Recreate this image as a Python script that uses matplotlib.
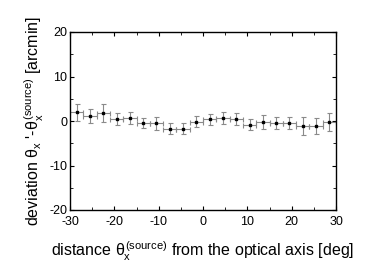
import numpy as np
import matplotlib
matplotlib.use("Agg")
import matplotlib.pyplot as plt
from matplotlib.ticker import MultipleLocator

plt.rcParams["font.family"] = ["Liberation Sans", "DejaVu Sans"]
plt.rcParams["mathtext.fontset"] = "custom"
plt.rcParams["mathtext.rm"] = "Liberation Sans"
plt.rcParams["mathtext.it"] = "Liberation Sans"
plt.rcParams["mathtext.sf"] = "Liberation Sans"
plt.rcParams["axes.unicode_minus"] = False

# 数据：每 3 度一个分箱
x = np.arange(-28.5, 30, 3.0)
dev = [2.0, 1.05, 1.8, 0.5, 0.67, -0.45, -0.5, -1.7, -1.7, -0.15,
       0.4, 0.67, 0.5, -0.8, -0.2, -0.5, -0.5, -1.2, -1.1, -0.2]
dev_err = [1.9, 1.6, 2.1, 1.3, 1.4, 1.1, 1.5, 1.2, 1.2, 1.3,
           1.2, 1.3, 1.3, 1.3, 1.5, 1.4, 1.4, 2.0, 1.8, 2.1]
x_err = 1.5

fig = plt.figure(figsize=(3.91, 2.73), dpi=100)
ax = fig.add_axes([70 / 391, 1 - 210 / 273, 266 / 391, 178 / 273])

ax.errorbar(x, dev, xerr=x_err, yerr=dev_err, fmt="none", ecolor="#8a8a8a",
            elinewidth=0.8, capsize=1.8, capthick=0.8)
ax.plot(x, dev, "s", color="black", markersize=1.7)

ax.set_xlim(-30, 30)
ax.set_ylim(-20, 20)
ax.xaxis.set_major_locator(MultipleLocator(10))
ax.xaxis.set_minor_locator(MultipleLocator(5))
ax.yaxis.set_major_locator(MultipleLocator(10))
ax.yaxis.set_minor_locator(MultipleLocator(5))
ax.tick_params(which="both", direction="in", top=True, right=True,
               labelsize=9)
ax.tick_params(axis="x", pad=4)
ax.tick_params(axis="y", pad=2)
ax.tick_params(which="major", length=3)
ax.tick_params(which="minor", length=2)
for s in ax.spines.values():
    s.set_linewidth(1.0)

ax.set_xlabel(r"distance $\theta_x^{(\mathrm{source})}$ from the optical axis [deg]",
              fontsize=11.5, labelpad=9)
ax.set_ylabel(r"deviation $\theta_x$ '-$\theta_x^{(\mathrm{source})}$ [arcmin]",
              fontsize=11.5, labelpad=2)

fig.savefig("out.png", dpi=100)
